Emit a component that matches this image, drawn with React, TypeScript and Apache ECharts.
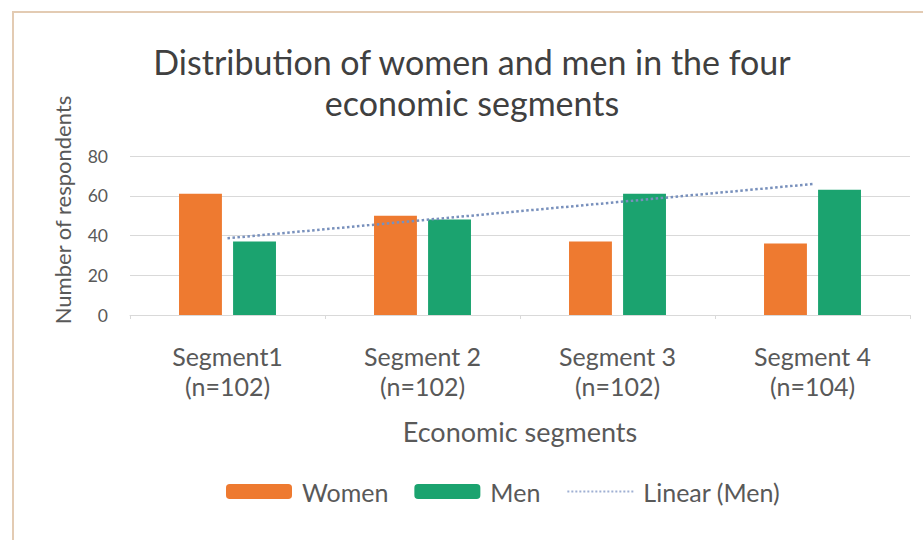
import React, { useEffect, useRef } from "react";
import * as echarts from "echarts";

const categories = ["Segment1\n(n=102)", "Segment 2\n(n=102)", "Segment 3\n(n=102)", "Segment 4\n(n=104)"];
const women = [61, 50, 37, 36];
const men = [37, 48, 61, 63];
const yTicks = [0, 20, 40, 60, 80];

function linearFit(vals: number[]): number[] {
  const n = vals.length;
  const xs = vals.map((_, i) => i + 1);
  const mx = xs.reduce((a, b) => a + b, 0) / n;
  const my = vals.reduce((a, b) => a + b, 0) / n;
  let sxy = 0;
  let sxx = 0;
  for (let i = 0; i < n; i++) {
    sxy += (xs[i] - mx) * (vals[i] - my);
    sxx += (xs[i] - mx) * (xs[i] - mx);
  }
  const slope = sxy / sxx;
  return xs.map((x) => +(my + slope * (x - mx)).toFixed(3));
}

const FONT = "Lato, 'Open Sans', sans-serif";
const TEXT = "#595959";

export default function App() {
  const ref = useRef<HTMLDivElement>(null);
  useEffect(() => {
    if (!ref.current) return;
    const chart = echarts.init(ref.current, null, { renderer: "svg" });
    chart.setOption({
      animation: false,
      backgroundColor: "#ffffff",
      textStyle: { fontFamily: FONT },
      title: {
        text: "Distribution of women and men in the four\neconomic segments",
        left: 467,
        top: 36,
        textAlign: "center",
        textStyle: {
          fontFamily: FONT,
          fontSize: 34,
          fontWeight: "normal",
          color: "#404040",
          lineHeight: 41,
        },
      },
      graphic: [
        {
          type: "rect",
          shape: { x: 13, y: 12, width: 930, height: 560 },
          style: { fill: "none", stroke: "#e3cbb3", lineWidth: 2 },
          silent: true,
          z: -1,
        },
        {
          type: "text",
          x: 62,
          y: 210,
          rotation: Math.PI / 2,
          style: {
            text: "Number of respondents",
            fontFamily: FONT,
            fontSize: 22,
            fill: TEXT,
            align: "center",
            verticalAlign: "middle",
          },
        },
      ],
      legend: {
        top: 474,
        left: 221,
        itemWidth: 66,
        itemHeight: 15,
        itemGap: 26,
        textStyle: { fontFamily: FONT, fontSize: 25, color: TEXT, padding: [0, 0, 0, 5] },
        data: [
          { name: "Women" },
          { name: "Men" },
          { name: "Linear (Men)", itemStyle: { opacity: 0 }, lineStyle: { color: "#9fb0d3", width: 2, type: "dotted" } },
        ],
      },
      grid: { left: 130, right: 13, top: 156, bottom: 225 },
      xAxis: {
        type: "category",
        data: categories,
        axisLine: { lineStyle: { color: "#d9d9d9" } },
        axisTick: { show: true, length: 4, lineStyle: { color: "#d9d9d9" } },
        axisLabel: {
          fontFamily: FONT,
          fontSize: 25,
          color: TEXT,
          lineHeight: 30,
          margin: 26,
        },
        name: "Economic segments",
        nameLocation: "middle",
        nameGap: 103,
        nameTextStyle: { fontFamily: FONT, fontSize: 27, color: TEXT },
      },
      yAxis: {
        type: "value",
        min: yTicks[0],
        max: yTicks[yTicks.length - 1],
        interval: 20,
        axisLine: { show: false },
        axisTick: { show: false },
        splitLine: { lineStyle: { color: "#d9d9d9" } },
        axisLabel: { fontFamily: FONT, fontSize: 17.5, color: TEXT, margin: 22 },
      },
      series: [
        {
          name: "Women",
          type: "bar",
          data: women,
          barWidth: "22%",
          barGap: "26%",
          itemStyle: { color: "#EE7A30" },
        },
        {
          name: "Men",
          type: "bar",
          data: men,
          barWidth: "22%",
          itemStyle: { color: "#1BA36F" },
        },
        {
          name: "Linear (Men)",
          type: "line",
          data: linearFit(men),
          symbol: "none",
          lineStyle: { color: "#7890bc", width: 2.5, type: "dotted" },
          itemStyle: { color: "#7890bc" },
          z: 3,
        },
      ],
    });
    return () => chart.dispose();
  }, []);
  return (
    <div
      ref={ref}
      style={{ position: "fixed", left: 0, top: 0, width: 923, height: 540 }}
    />
  );
}
